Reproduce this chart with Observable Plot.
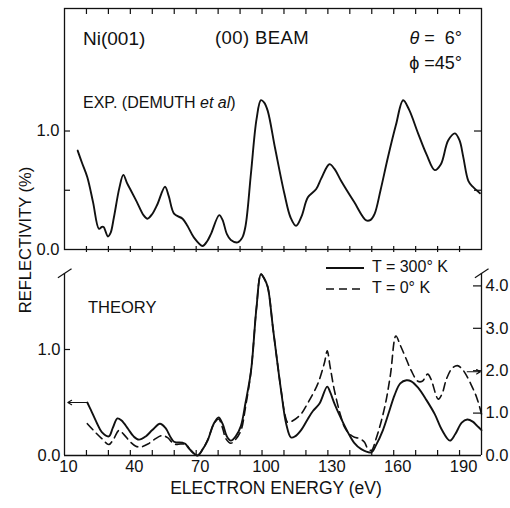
<!DOCTYPE html>
<html><head><meta charset="utf-8">
<script src="https://cdn.jsdelivr.net/npm/d3@7"></script>
<script src="https://cdn.jsdelivr.net/npm/@observablehq/plot@0.6"></script>
<style>
body{margin:0;background:#fff;}
#wrap{position:relative;width:510px;height:508px;font-family:"Liberation Sans",Arial,sans-serif;color:#111;overflow:hidden;}
#wrap > svg{position:absolute;left:0;}
.ann{position:absolute;white-space:nowrap;line-height:1;transform:translateY(-50%);}
.ann svg{display:inline-block;vertical-align:middle;margin-right:8px;}
</style></head><body><div id="wrap"></div>
<script>
// ---------- data ----------
const energyDomain = [10, 200];
const tickEnergies = [20,30,40,50,60,70,80,90,100,110,120,130,140,150,160,170,180,190];
const energyLabels = [10,40,70,100,130,160,190];

// Experiment (Demuth et al), reflectivity %
const expE = [16,18,20.4,23,25.7,27,27.8,29.8,31,32.5,35,36.8,38.5,40.2,43,46,47.8,50,52.3,55.8,57.5,60,63.8,66,69,72.9,75,76.7,80.5,82,84,85.8,88.9,91,92.5,95,97.5,99.5,101,102.6,106,110.2,113,115.5,118,120.9,124.7,127,130.7,133,136,142,147.5,149.5,151.3,154,157.4,161,164.3,167,171.1,175,178.7,181.5,184.8,187.9,190,191.7,194,196,199.3];
const expV = [0.835,0.73,0.61,0.40,0.175,0.19,0.19,0.11,0.14,0.27,0.52,0.63,0.56,0.50,0.40,0.29,0.26,0.30,0.38,0.53,0.45,0.30,0.26,0.20,0.10,0.03,0.07,0.13,0.29,0.25,0.13,0.08,0.06,0.10,0.20,0.65,1.10,1.26,1.24,1.17,0.85,0.47,0.27,0.20,0.28,0.44,0.51,0.60,0.72,0.68,0.58,0.40,0.245,0.25,0.30,0.50,0.78,1.05,1.26,1.18,0.98,0.80,0.67,0.72,0.92,0.98,0.92,0.78,0.58,0.53,0.475];

// Theory T = 300 K (left axis)
const t300E = [20.4,22,24.9,27,30.2,32,34.1,36,39,41.5,43.9,47,50,53.5,56,58.4,59.9,63.8,65,67,70.6,73,75.2,78,80.2,82,84,85.8,88,90.4,92.5,95,97.5,99.5,101,102.6,105,108.7,111,113.2,115,117.8,121,123.2,126.2,129.7,131,133,136,139.1,142,145.2,149.8,152,155.1,158,160.4,163,165.8,168,171.1,175,178.7,182,185.6,188,191,193.5,196,198,200];
const t300V = [0.50,0.43,0.30,0.22,0.18,0.26,0.35,0.33,0.25,0.18,0.15,0.18,0.24,0.30,0.26,0.17,0.13,0.12,0.11,0.06,0.00,0.06,0.14,0.30,0.36,0.30,0.18,0.14,0.18,0.28,0.50,0.80,1.40,1.71,1.67,1.59,1.20,0.61,0.30,0.17,0.18,0.24,0.35,0.42,0.49,0.65,0.60,0.49,0.35,0.22,0.12,0.06,0.03,0.10,0.24,0.42,0.57,0.68,0.71,0.70,0.64,0.52,0.39,0.24,0.14,0.20,0.31,0.34,0.32,0.28,0.24];

// Theory T = 0 K (right axis)
const t0E = [20.4,24,27,30.2,32.5,34.8,37,40,42.5,44.7,48,51,54.6,57,60,63,65.3,67.5,70.6,73,75.5,78,80.2,82,83.5,85.8,88,90.4,92.5,95,97.5,99.5,101,102.6,105,108.7,110.5,111.7,114,117.8,121,125.4,128.5,129.7,131,133,135.5,137.6,140,142.1,144.5,146.7,148,149.8,152,155.9,158.5,161,163,165.5,168,171,173,175.5,177,180.3,182,184,186.5,189,191,193,195,197.8,200];
const t0V = [0.75,0.55,0.40,0.26,0.40,0.59,0.50,0.32,0.22,0.20,0.27,0.38,0.47,0.42,0.27,0.27,0.26,0.12,0.00,0.15,0.40,0.74,0.86,0.65,0.40,0.29,0.38,0.59,1.15,2.0,3.5,4.28,4.17,3.97,3.0,1.53,0.95,0.78,0.82,0.98,1.25,1.69,2.2,2.47,2.1,1.53,1.0,0.67,0.50,0.43,0.40,0.31,0.18,0.12,0.40,1.14,1.9,2.82,2.60,2.30,2.0,1.75,1.75,1.92,1.80,1.33,1.45,1.80,2.05,2.12,2.05,1.90,1.70,1.37,0.98];

const expTicks = [0.5, 1.0];
const expLabels = [0.0, 1.0];
const leftTicks = [1.0];
const leftLabels = [0.0, 1.0];
const rightTicks = [1, 2, 3, 4];
const rightLabels = [0, 1, 2, 3, 4];
const rightToLeft = 2.5; // right-axis units per left-axis unit

// ---------- build ----------
const ink = "#111";
const font = '"Liberation Sans", Arial, sans-serif';
const W = 510, mL = 64, mR = 29;
const innerW = W - mL - mR;

const expData = expE.map((e, i) => ({E: e, v: expV[i]}));
const s300 = t300E.map((e, i) => ({E: e, v: t300V[i]}));
const s0 = t0E.map((e, i) => ({E: e, v: t0V[i] / rightToLeft}));

const wrap = document.getElementById("wrap");

// Top panel
const H1 = 252, mT1 = 8, mB1 = 3, innerH1 = H1 - mT1 - mB1;
const topPlot = Plot.plot({
  width: W, height: H1, marginLeft: mL, marginRight: mR, marginTop: mT1, marginBottom: mB1,
  style: {fontFamily: font, fontSize: "16px", color: ink, background: "transparent", overflow: "visible"},
  x: {domain: energyDomain, axis: null},
  y: {domain: [0, 2.034], axis: null},
  marks: [
    Plot.frame({stroke: ink, strokeWidth: 1.3}),
    Plot.tickX(tickEnergies, {x: d => d, insetBottom: innerH1 - 6, stroke: ink, strokeWidth: 1.2}),
    Plot.tickX(tickEnergies, {x: d => d, insetTop: innerH1 - 3, insetBottom: -3, stroke: ink, strokeWidth: 1.2}),
    Plot.tickY(expTicks, {y: d => d, insetRight: innerW - 6, stroke: ink, strokeWidth: 1.2}),
    Plot.tickY(expTicks, {y: d => d, insetLeft: innerW - 7, stroke: ink, strokeWidth: 1.2}),
    Plot.text(expLabels, {y: d => d, text: d => d.toFixed(1), frameAnchor: "left", textAnchor: "end", dx: -5, fill: ink, fontSize: 16.5}),
    Plot.line(expData, {x: "E", y: "v", curve: "catmull-rom", stroke: ink, strokeWidth: 1.9})
  ]
});
topPlot.style.top = "0px";
wrap.appendChild(topPlot);

// Bottom panel
const H2 = 256, mT2 = 21, mB2 = 53, innerH2 = H2 - mT2 - mB2;
const yTop2 = 182 / 106;
const brk = (x) => [{x1: x - 3, y1: yTop2 - 0.04, x2: x + 3.2, y2: yTop2 + 0.045}];
const arrowL = [{x1: s300[0].E, y1: s300[0].v, x2: energyDomain[0] + 1.5, y2: s300[0].v}];
const iR = t0E.indexOf(193);
const arrowR = [{x1: t0E[iR] + 0.5, y1: s0[iR].v + 0.03, x2: energyDomain[1] - 0.5, y2: s0[iR].v + 0.03}];

const bottomPlot = Plot.plot({
  width: W, height: H2, marginLeft: mL, marginRight: mR, marginTop: mT2, marginBottom: mB2,
  style: {fontFamily: font, fontSize: "16px", color: ink, background: "transparent", overflow: "visible"},
  x: {domain: energyDomain, axis: null},
  y: {domain: [0, yTop2], axis: null},
  marks: [
    Plot.ruleX([energyDomain[0], energyDomain[1]], {x: d => d, stroke: ink, strokeWidth: 1.3}),
    Plot.ruleY([0], {stroke: ink, strokeWidth: 1.3}),
    Plot.link(brk(energyDomain[0]), {x1: "x1", y1: "y1", x2: "x2", y2: "y2", stroke: ink, strokeWidth: 1.2}),
    Plot.link(brk(energyDomain[1]), {x1: "x1", y1: "y1", x2: "x2", y2: "y2", stroke: ink, strokeWidth: 1.2}),
    Plot.tickX(tickEnergies, {x: d => d, insetTop: innerH2 - 5, stroke: ink, strokeWidth: 1.2}),
    Plot.tickY(leftTicks, {y: d => d, insetRight: innerW - 6, stroke: ink, strokeWidth: 1.2}),
    Plot.tickY(rightTicks, {y: d => d / rightToLeft, insetLeft: innerW - 8, stroke: ink, strokeWidth: 1.2}),
    Plot.text(leftLabels, {y: d => d, text: d => d.toFixed(1), frameAnchor: "left", textAnchor: "end", dx: -4, fill: ink, fontSize: 16.5}),
    Plot.text(rightLabels, {y: d => d / rightToLeft, text: d => d.toFixed(1), frameAnchor: "right", textAnchor: "start", dx: 4, fill: ink, fontSize: 16.5}),
    Plot.text(energyLabels, {x: d => d, text: d => String(d), frameAnchor: "bottom", dy: 16, dx: 4, fill: ink, fontSize: 16.5}),
    Plot.text(["ELECTRON ENERGY (eV)"], {frameAnchor: "bottom", dy: 38, dx: 3, text: d => d, fill: ink, fontSize: 17.5}),
    Plot.line(s0, {x: "E", y: "v", curve: "catmull-rom", stroke: ink, strokeWidth: 1.6, strokeDasharray: "8,5"}),
    Plot.line(s300, {x: "E", y: "v", curve: "catmull-rom", stroke: ink, strokeWidth: 1.9}),
    Plot.arrow(arrowL, {x1: "x1", y1: "y1", x2: "x2", y2: "y2", stroke: ink, strokeWidth: 1.1, headLength: 6}),
    Plot.arrow(arrowR, {x1: "x1", y1: "y1", x2: "x2", y2: "y2", stroke: ink, strokeWidth: 1.1, headLength: 6})
  ]
});
bottomPlot.style.top = "252px";
wrap.appendChild(bottomPlot);

// Annotations
function ann(html, css) {
  const d = document.createElement("div");
  d.className = "ann";
  d.innerHTML = html;
  Object.assign(d.style, css);
  wrap.appendChild(d);
}
ann("Ni(001)", {left: "83px", top: "38px", fontSize: "19px"});
ann("(00)&nbsp;BEAM", {left: "215px", top: "38px", fontSize: "18.5px", letterSpacing: "0.4px"});
ann("<i>θ</i> = &nbsp;6°", {right: "48px", top: "38px", fontSize: "18px"});
ann("ϕ =45°", {right: "48px", top: "63px", fontSize: "18px"});
ann("EXP. (DEMUTH <i>et al</i>)", {left: "83px", top: "103px", fontSize: "16px"});
ann("THEORY", {left: "88px", top: "307px", fontSize: "16.5px"});
ann('<svg width="38" height="4"><line x1="0" y1="2" x2="38" y2="2" stroke="#111" stroke-width="1.8"/></svg>T = 300° K', {left: "326px", top: "267px", fontSize: "16px"});
ann('<svg width="38" height="4"><line x1="0" y1="2" x2="38" y2="2" stroke="#111" stroke-width="1.6" stroke-dasharray="8,5"/></svg>T = 0° K', {left: "326px", top: "288px", fontSize: "16px"});
const yt = document.createElement("div");
yt.textContent = "REFLECTIVITY (%)";
Object.assign(yt.style, {position: "absolute", left: "25px", top: "240px", transform: "translate(-50%,-50%) rotate(-90deg)", whiteSpace: "nowrap", fontSize: "16.5px", lineHeight: "1"});
wrap.appendChild(yt);
</script>
</body></html>
